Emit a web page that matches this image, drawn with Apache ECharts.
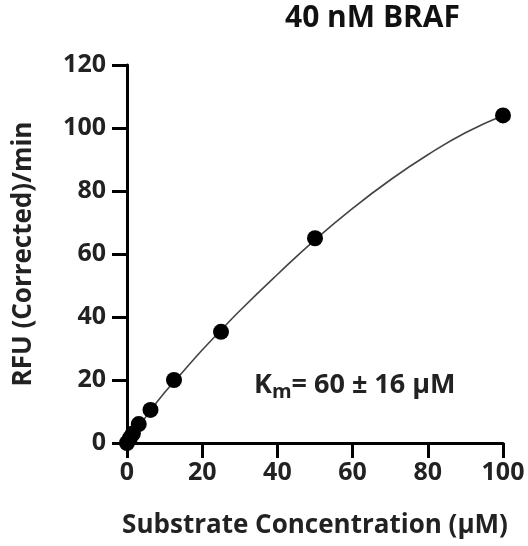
<!DOCTYPE html>
<html>
<head>
<meta charset="utf-8">
<script src="https://cdn.jsdelivr.net/npm/echarts@6/dist/echarts.min.js"></script>
<style>
html,body{margin:0;padding:0;background:#fff;}
#chart{width:528px;height:546px;}
</style>
</head>
<body>
<div id="chart"></div>
<script>
// Data
var substrateConc = [0, 0.78, 1.5625, 3.125, 6.25, 12.5, 25, 50, 100];
var rfuRate = [0, 1.5, 3, 6, 10.5, 20, 35.3, 65, 104];
var curveX = [0, 5, 10, 15, 20, 25, 30, 40, 50, 60, 70, 80, 90, 100];
var curveY = [0, 8.3, 16, 22.8, 29.5, 35.8, 42, 53.5, 64.5, 74.5, 83.5, 91.5, 98.5, 104];
var xTicks = [0, 20, 40, 60, 80, 100];
var yTicks = [0, 20, 40, 60, 80, 100, 120];
var titleText = '40 nM BRAF';
var xName = 'Substrate Concentration (\u00B5M)';
var yName = 'RFU (Corrected)/min';

var FONT = '"Open Sans", sans-serif';
var chart = echarts.init(document.getElementById('chart'));

var points = substrateConc.map(function (x, i) { return [x, rfuRate[i]]; });
var curve = curveX.map(function (x, i) { return [x, curveY[i]]; });

chart.setOption({
  animation: false,
  backgroundColor: '#ffffff',
  grid: { left: 127, right: 25, top: 65, bottom: 103 },
  xAxis: {
    type: 'value', min: xTicks[0], max: xTicks[xTicks.length - 1], interval: 20,
    name: xName, nameLocation: 'middle', nameGap: 70,
    nameTextStyle: { fontFamily: FONT, fontWeight: 'bold', fontSize: 26, color: '#222' },
    axisLine: { show: true, onZero: false, lineStyle: { color: '#000', width: 3 } },
    axisTick: { show: true, length: 15, lineStyle: { color: '#000', width: 3 } },
    axisLabel: { margin: 17, fontFamily: FONT, fontWeight: 'bold', fontSize: 25, color: '#222' },
    splitLine: { show: false }
  },
  yAxis: {
    type: 'value', min: yTicks[0], max: yTicks[yTicks.length - 1], interval: 20,
    name: yName, nameLocation: 'middle', nameGap: 90,
    nameTextStyle: { fontFamily: FONT, fontWeight: 'bold', fontSize: 26, color: '#222' },
    axisLine: { show: true, onZero: false, lineStyle: { color: '#000', width: 3 } },
    axisTick: { show: true, length: 15, lineStyle: { color: '#000', width: 3 } },
    axisLabel: { margin: 21, fontFamily: FONT, fontWeight: 'bold', fontSize: 25, color: '#222' },
    splitLine: { show: false }
  },
  graphic: [
    {
      type: 'text', left: 285, top: 3,
      style: { text: titleText, fontFamily: FONT, fontWeight: 'bold', fontSize: 30, fill: '#111' }
    },
    {
      type: 'text', left: 254, top: 372,
      style: {
        text: '{k|K}{m|m}{k|= 60 \u00B1 16 \u00B5M}',
        rich: {
          k: { fontFamily: FONT, fontWeight: 'bold', fontSize: 27, fill: '#222', color: '#222' },
          m: { fontFamily: FONT, fontWeight: 'bold', fontSize: 20, fill: '#222', color: '#222', padding: [13, 0, 0, 0] }
        }
      }
    }
  ],
  series: [
    {
      type: 'line', data: curve, smooth: true, showSymbol: false, symbol: 'none',
      lineStyle: { color: '#444', width: 1.6 }, silent: true, z: 2
    },
    {
      type: 'scatter', data: points, symbol: 'circle', symbolSize: 16,
      itemStyle: { color: '#000', opacity: 1 }, z: 3
    }
  ]
});
</script>
</body>
</html>
